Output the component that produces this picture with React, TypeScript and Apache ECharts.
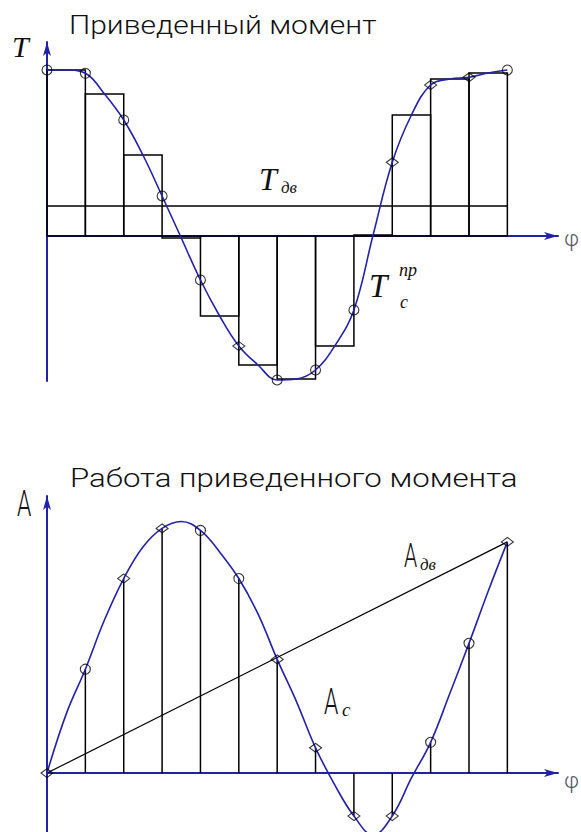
import React, { useEffect, useRef } from 'react';
import * as echarts from 'echarts';

// Node indices along the crank angle φ (12 equal steps)
const nodeIndex = [0, 1, 2, 3, 4, 5, 6, 7, 8, 9, 10, 11, 12];

// Reduced torque at the nodes and its mean value on each step
const torqueNodes = [166, 162.7, 116, 40, -44, -110, -144, -134, -74, 73.7, 151, 158.7, 166];
const torqueSteps = [166, 142, 81, -2, -80, -129, -143, -110, 1, 121, 157, 163];
const driveTorque = 30;

// Work of the reduced torque at the nodes and half-way between them
const workNodes = [0, 105.7, 198, 249, 247, 198, 115.7, 25.7, -43.7, -43.7, 31.3, 132, 235.3];
const workMidpoints = [60, 156, 230, 256, 225, 162, 73, -12, -63, -5, 81, 185];

// Marker glyph used at each node
const torqueMarkerShapes = ['o', 'o', 'o', 'o', 'o', 'd', 'o', 'o', 'o', 'd', 'd', 'd', 'o'];
const workMarkerShapes = ['d', 'o', 'd', 'd', 'o', 'o', 'd', 'd', 'd', 'd', 'o', 'o', 'd'];

const titleTorque = 'Приведенный момент';
const titleWork = 'Работа приведенного момента';

const BLUE = '#2222a8';
const INK = '#111';

// Curve passing through nodes and step mid-points
const interleave = (nodes: number[], mids: number[]) => {
  const out: number[][] = [];
  nodes.forEach((v, i) => {
    out.push([i, v]);
    if (i < mids.length) out.push([i + 0.5, mids[i]]);
  });
  return out;
};

const markerData = (values: number[], shapes: string[]) =>
  values.map((v, i) => ({
    value: [nodeIndex[i], v],
    symbol: shapes[i] === 'd' ? 'diamond' : 'circle',
    symbolSize: shapes[i] === 'd' ? [12, 9] : 10,
  }));

const axisX = (gridIndex: number) => ({
  type: 'value',
  gridIndex,
  min: 0,
  max: 13.32,
  axisLine: {
    show: true,
    onZero: true,
    symbol: ['none', 'arrow'],
    symbolSize: [6, 14],
    lineStyle: { color: BLUE, width: 2 },
  },
  axisTick: { show: false },
  axisLabel: { show: false },
  splitLine: { show: false },
});

const axisY = (gridIndex: number, min: number, max: number) => ({
  type: 'value',
  gridIndex,
  min,
  max,
  axisLine: {
    show: true,
    symbol: ['none', 'arrow'],
    symbolSize: [6, 14],
    lineStyle: { color: BLUE, width: 2 },
  },
  axisTick: { show: false },
  axisLabel: { show: false },
  splitLine: { show: false },
});

const markerSeries = (gridIndex: number, values: number[], shapes: string[]) => ({
  type: 'scatter',
  xAxisIndex: gridIndex,
  yAxisIndex: gridIndex,
  data: markerData(values, shapes),
  itemStyle: { color: 'rgba(0,0,0,0)', borderColor: '#000', borderWidth: 1.1 },
  z: 5,
  silent: true,
});

const curveSeries = (gridIndex: number, data: number[][]) => ({
  type: 'line',
  xAxisIndex: gridIndex,
  yAxisIndex: gridIndex,
  data,
  smooth: 0.4,
  showSymbol: false,
  lineStyle: { color: BLUE, width: 1.6 },
  z: 4,
  silent: true,
});

const txt = (
  text: string,
  x: number,
  y: number,
  font: { size: number; family: string; style?: string; weight?: number | string; sx?: number; sy?: number; fill?: string }
) => ({
  type: 'text',
  x,
  y,
  scaleX: font.sx ?? 1,
  scaleY: font.sy ?? 1,
  style: {
    text,
    fontSize: font.size,
    fontFamily: font.family,
    fontStyle: font.style ?? 'normal',
    fontWeight: font.weight ?? 'normal',
    fill: font.fill ?? INK,
    align: 'left',
    verticalAlign: 'middle',
  },
  silent: true,
});

const SERIF = '"Liberation Serif", serif';
const SANS = 'Roboto, sans-serif';

export default function App() {
  const ref = useRef<HTMLDivElement>(null);

  useEffect(() => {
    if (!ref.current) return;
    const chart = echarts.init(ref.current, undefined, { renderer: 'svg' });

    const option = {
      animation: false,
      backgroundColor: '#fff',
      grid: [
        { left: 47, top: 42, width: 511, height: 339 },
        { left: 47, top: 496, width: 511, height: 342 },
      ],
      xAxis: [axisX(0), axisX(1)],
      yAxis: [axisY(0, -145, 194), axisY(1, -60, 282)],
      series: [
        // step approximation of the reduced torque
        {
          type: 'custom',
          xAxisIndex: 0,
          yAxisIndex: 0,
          data: torqueSteps.map((v, i) => [nodeIndex[i], v]),
          renderItem: (_p: any, api: any) => {
            const i = api.value(0);
            const v = api.value(1);
            const a = api.coord([i, 0]);
            const b = api.coord([i + 1, v]);
            return {
              type: 'rect',
              shape: {
                x: a[0],
                y: Math.min(a[1], b[1]),
                width: b[0] - a[0],
                height: Math.abs(b[1] - a[1]),
              },
              style: { fill: 'none', stroke: '#000', lineWidth: 1.5 },
            };
          },
          z: 2,
          silent: true,
        },
        // driving torque level
        {
          type: 'line',
          xAxisIndex: 0,
          yAxisIndex: 0,
          data: [
            [nodeIndex[0], driveTorque],
            [nodeIndex[12], driveTorque],
          ],
          showSymbol: false,
          lineStyle: { color: '#000', width: 1.3 },
          z: 3,
          silent: true,
        },
        curveSeries(0, interleave(torqueNodes, torqueSteps)),
        markerSeries(0, torqueNodes, torqueMarkerShapes),

        // ordinates of the work diagram
        {
          type: 'custom',
          xAxisIndex: 1,
          yAxisIndex: 1,
          data: workNodes.map((v, i) => [nodeIndex[i], v]),
          renderItem: (_p: any, api: any) => {
            const i = api.value(0);
            const v = api.value(1);
            const a = api.coord([i, 0]);
            const b = api.coord([i, v]);
            return {
              type: 'line',
              shape: { x1: a[0], y1: a[1], x2: b[0], y2: b[1] },
              style: { stroke: '#000', lineWidth: 1.5 },
            };
          },
          z: 2,
          silent: true,
        },
        // work of the driving torque
        {
          type: 'line',
          xAxisIndex: 1,
          yAxisIndex: 1,
          data: [
            [nodeIndex[0], 0],
            [nodeIndex[12], workNodes[12]],
          ],
          showSymbol: false,
          lineStyle: { color: '#000', width: 1.2 },
          z: 3,
          silent: true,
        },
        curveSeries(1, interleave(workNodes, workMidpoints)),
        markerSeries(1, workNodes, workMarkerShapes),
      ],
      graphic: [
        txt(titleTorque, 69, 25, { size: 20, family: SANS, weight: 300, sx: 1.5, sy: 1.3 }),
        txt(titleWork, 70, 478, { size: 20, family: SANS, weight: 300, sx: 1.56, sy: 1.3 }),

        txt('T', 12, 46, { size: 30, family: SERIF, style: 'italic' }),
        txt('T', 259, 179, { size: 32, family: SERIF, style: 'italic' }),
        txt('дв', 281, 187, { size: 17, family: SERIF, style: 'italic' }),
        txt('T', 369, 286, { size: 33, family: SERIF, style: 'italic' }),
        txt('пр', 399, 270, { size: 18, family: SERIF, style: 'italic' }),
        txt('c', 400, 302, { size: 18, family: SERIF, style: 'italic' }),
        txt('φ', 564, 238, { size: 22, family: SANS, weight: 300, fill: '#556' }),

        txt('A', 17, 503, { size: 26, family: SANS, weight: 300, sx: 0.88, sy: 1.45 }),
        txt('A', 404, 556, { size: 24, family: SANS, weight: 300, sx: 0.88, sy: 1.4 }),
        txt('дв', 420, 564, { size: 17, family: SERIF, style: 'italic' }),
        txt('A', 324, 701, { size: 26, family: SANS, weight: 300, sx: 0.88, sy: 1.45 }),
        txt('c', 342, 709, { size: 19, family: SERIF, style: 'italic' }),
        txt('φ', 564, 780, { size: 22, family: SANS, weight: 300, fill: '#556' }),
      ],
    };

    chart.setOption(option as any);
    return () => chart.dispose();
  }, []);

  return (
    <div
      ref={ref}
      style={{ position: 'absolute', left: 0, top: 0, width: 581, height: 832, background: '#fff' }}
    />
  );
}
